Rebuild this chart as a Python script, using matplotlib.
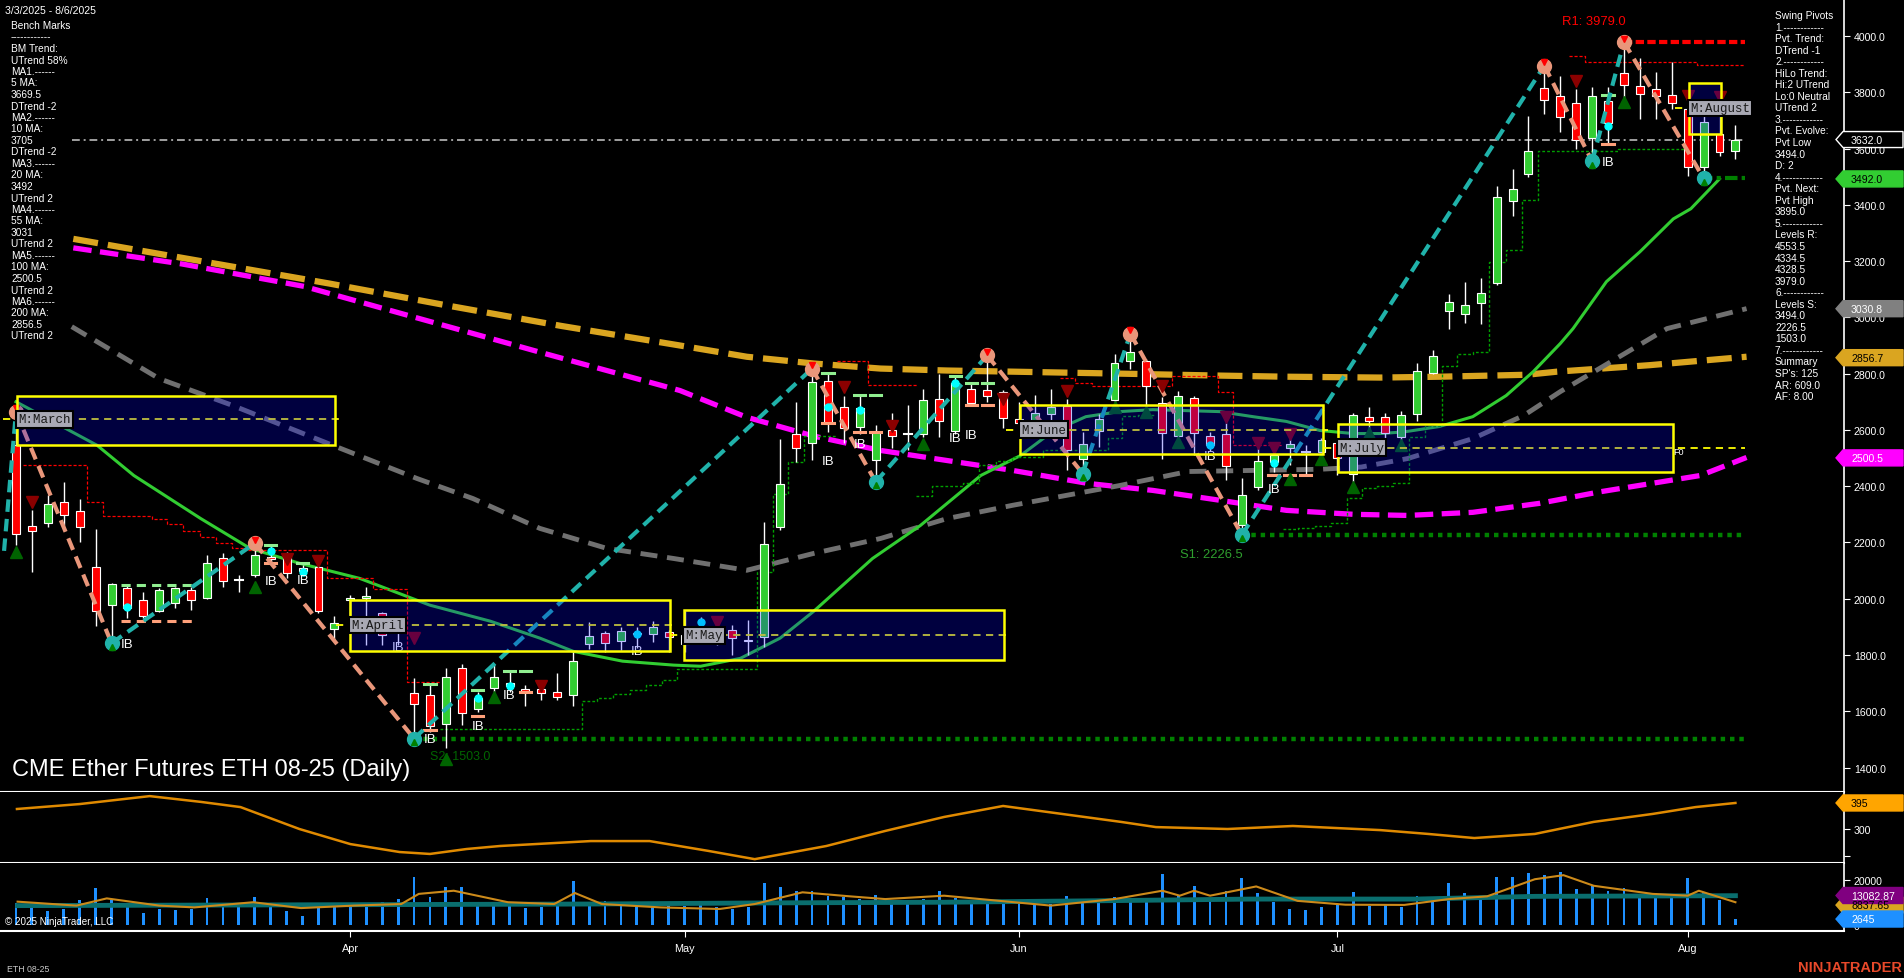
import numpy as np
import pandas as pd
import matplotlib
matplotlib.use("Agg")
import matplotlib.pyplot as plt
from matplotlib.patches import Rectangle, Polygon

plt.rcParams['font.family'] = ['Liberation Sans', 'DejaVu Sans']

# ------------------------------------------------------------------ data
holidays = ['2025-04-18', '2025-05-26', '2025-06-19', '2025-07-04']
dates = pd.bdate_range('2025-03-03', '2025-08-06')
dates = dates[~dates.isin(pd.to_datetime(holidays))]

opens = [2546, 2259, 2268, 2342, 2313, 2114, 1978, 2039, 1996, 1958,
         1984, 2031, 2002, 2143, 2066, 2084, 2150, 2155, 2110, 2114,
         1891, 1995, 2003, 1948, 1880, 1666, 1656, 1555, 1755, 1607,
         1682, 1690, 1679, 1679, 1670, 1656, 1839, 1877, 1848, 1879,
         1873, 1880, 1840, 1860, 1900, 1889, 1848, 1865, 2256, 2587,
         2554, 2774, 2682, 2610, 2492, 2599, 2587, 2587, 2711, 2595,
         2744, 2743, 2733, 2640, 2620, 2658, 2685, 2498, 2597, 2708,
         2844, 2844, 2697, 2579, 2714, 2579, 2585, 2262, 2398, 2486,
         2537, 2523, 2520, 2555, 2445, 2646, 2646, 2575, 2658, 2802,
         3022, 3012, 3052, 3122, 3415, 3510, 3814, 3788, 3761, 3637,
         3770, 3870, 3824, 3812, 3792, 3741, 3534, 3652, 3593]
highs = [2664, 2315, 2368, 2416, 2356, 2246, 2055, 2049, 2025, 2037,
         2043, 2043, 2155, 2161, 2084, 2197, 2190, 2167, 2120, 2143,
         1940, 2013, 2043, 1954, 1918, 1717, 1696, 1755, 1767, 1670,
         1768, 1741, 1694, 1700, 1737, 1812, 1916, 1886, 1901, 1901,
         1921, 1889, 1955, 1935, 1920, 1905, 1924, 2271, 2566, 2700,
         2818, 2802, 2721, 2723, 2619, 2660, 2690, 2747, 2800, 2788,
         2764, 2865, 2741, 2700, 2723, 2747, 2711, 2593, 2658, 2871,
         2942, 2852, 2717, 2737, 2720, 2593, 2626, 2430, 2534, 2545,
         2569, 2545, 2570, 2570, 2660, 2682, 2660, 2667, 2838, 2885,
         3084, 3125, 3140, 3466, 3528, 3717, 3895, 3859, 3812, 3818,
         3818, 3979, 3921, 3871, 3909, 3776, 3741, 3788, 3682]
lows = [2190, 2096, 2256, 2262, 2203, 1904, 1842, 1930, 1930, 1954,
        1966, 1960, 2000, 2043, 2025, 2078, 2130, 2072, 2085, 1948,
        1853, 1871, 1836, 1836, 1836, 1503, 1528, 1469, 1552, 1599,
        1670, 1670, 1619, 1640, 1640, 1617, 1822, 1810, 1818, 1824,
        1847, 1812, 1810, 1840, 1835, 1800, 1800, 1830, 2244, 2486,
        2492, 2593, 2552, 2587, 2415, 2534, 2528, 2575, 2575, 2587,
        2687, 2700, 2605, 2600, 2590, 2630, 2457, 2445, 2540, 2700,
        2818, 2682, 2496, 2563, 2510, 2525, 2421, 2226.5, 2385, 2451,
        2475, 2439, 2510, 2440, 2415, 2599, 2570, 2563, 2631, 2800,
        2957, 2981, 2978, 3114, 3359, 3498, 3723, 3658, 3599, 3554,
        3617, 3750, 3705, 3705, 3741, 3504, 3494, 3575, 3563]
closes = [2229, 2242, 2335, 2297, 2256, 1958, 2051, 1968, 1940, 2031,
          2037, 1996, 2126, 2064, 2068, 2155, 2140, 2090, 2100, 1958,
          1915, 2003, 2008, 1871, 1890, 1626, 1546, 1721, 1593, 1646,
          1720, 1700, 1667, 1664, 1652, 1779, 1868, 1844, 1885, 1875,
          1901, 1865, 1870, 1900, 1870, 1860, 1852, 2195, 2408, 2536,
          2770, 2625, 2605, 2678, 2592, 2579, 2589, 2708, 2631, 2765,
          2697, 2720, 2643, 2625, 2660, 2680, 2528, 2549, 2640, 2838,
          2877, 2756, 2589, 2720, 2589, 2545, 2472, 2368, 2490, 2510,
          2550, 2520, 2563, 2500, 2652, 2631, 2590, 2652, 2810, 2863,
          3054, 3043, 3086, 3427, 3456, 3590, 3774, 3711, 3632, 3786,
          3690, 3826, 3794, 3788, 3762, 3534, 3694, 3589, 3632]
volumes = [9900, 9200, 6200, 7000, 11000, 16300, 11100, 8300, 5200, 7000,
           6500, 7000, 11800, 9000, 8400, 12300, 8700, 6100, 3900, 8700,
           8700, 9200, 8000, 10100, 11400, 21200, 12300, 16700, 16700, 8700,
           8300, 9000, 7500, 8000, 9500, 19500, 9500, 10500, 9500, 10000,
           8500, 9000, 8500, 9500, 8000, 7000, 8000, 18600, 16700, 15200,
           15000, 13000, 12500, 11500, 13500, 10500, 9500, 11500, 15200, 12000,
           10500, 9500, 10000, 10500, 9000, 9500, 12700, 11000, 10000, 12500,
           11500, 10500, 22600, 13000, 17500, 12000, 15000, 20900, 14000, 10000,
           7000, 6500, 8000, 9000, 14500, 8500, 9000, 8000, 13000, 12000,
           18600, 14000, 12500, 21200, 21200, 23100, 22000, 23400, 16000, 17500,
           15000, 16500, 13500, 14000, 12500, 20700, 14500, 11000, 2645]

# moving averages (bar position, value)
ma20_x = [0, 5.1, 7.4, 11.6, 14.7, 17.8, 21.6, 26.0, 29.8, 32.9, 35.0, 38.1, 41.3, 43.0, 45.5,
          48.0, 50.1, 53.8, 56.8, 60.6, 63.1, 65.1, 67.2, 69.3, 71.4, 75.6, 77.7, 79.8, 81.9,
          84.0, 85.7, 87.2, 89.4, 91.5, 93.6, 95.3, 97.0, 97.8, 99.9, 102.0, 104.1, 105.2, 107.0]
ma20_v = [2700, 2545, 2438, 2285, 2179, 2126, 2072, 1977, 1920, 1860, 1813, 1778, 1764, 1760, 1788,
          1860, 1955, 2143, 2260, 2438, 2509, 2594, 2647, 2665, 2672, 2665, 2647, 2630, 2598,
          2587, 2587, 2593, 2612, 2647, 2722, 2807, 2907, 2960, 3127, 3233, 3350, 3386, 3492]
ma55_x = [3.5, 9.0, 13.6, 19.9, 25.2, 28.7, 32.9, 37.1, 41.3, 45.9, 50.1, 54.3, 58.5, 62.6,
          69.3, 73.6, 77.7, 81.9, 84.5, 87.4, 91.5, 94.7, 97.0, 103.7, 108.7]
ma55_v = [2967, 2782, 2687, 2545, 2427, 2356, 2250, 2179, 2143, 2101, 2161, 2214, 2285, 2332,
          2402, 2452, 2456, 2460, 2468, 2498, 2569, 2651, 2736, 2960, 3031]
ma100_x = [3.6, 10.4, 18.1, 25.7, 33.3, 41.7, 45.9, 50.1, 54.3, 58.5, 62.6, 67.3, 71.4, 75.6,
           79.8, 84.0, 87.4, 91.5, 95.7, 99.5, 105.8, 108.7]
ma100_v = [3247, 3190, 3110, 2990, 2870, 2740, 2645, 2578, 2527, 2491, 2456, 2410, 2385, 2350,
           2314, 2300, 2296, 2307, 2339, 2380, 2438, 2502]
ma200_x = [3.6, 11.6, 19.7, 27.3, 34.2, 41.7, 45.9, 50.1, 54.3, 58.5, 62.6, 69.3, 75.6, 79.8,
           85.7, 89.4, 92.6, 94.9, 96.8, 102.6, 108.7]
ma200_v = [3279, 3200, 3120, 3040, 2970, 2900, 2860, 2836, 2818, 2811, 2807, 2800, 2793, 2789,
           2786, 2789, 2793, 2796, 2807, 2830, 2860]

# swing pivots (zigzag)
piv_x = [-0.75, 0, 6, 15, 25, 50, 54, 61, 67, 70, 77, 96, 99, 101, 106]
piv_p = [2170, 2665, 1842, 2197, 1503, 2818, 2415, 2865, 2445, 2942, 2226.5, 3895, 3554, 3979, 3494]

# monthly boxes: label, start, end, top, bottom, mid
box_names = ['M:March', 'M:April', 'M:May', 'M:June', 'M:July', 'M:August']
box_i0 = [0.06, 20.98, 41.96, 63.07, 83.04, 105.09]
box_i1 = [20.04, 41.08, 62.06, 82.1, 104.08, 107.1]
box_top = [2722, 1994, 1959, 2690, 2622, 3833]
box_bot = [2548, 1813, 1781, 2516, 2452, 3652]
box_mid = [2637, 1906, 1870, 2601, 2537, 3744]

# signal markers
tri_dn_x = [1, 17, 19, 25, 33, 44, 52, 55, 62, 66, 72, 76, 78, 79, 80, 98, 105, 107]
tri_dn_p = [2344, 2141, 2134, 1860, 1690, 1917, 2753, 2614, 2710, 2738, 2756, 2646, 2554, 2536,
            2586, 3840, 3787, 3783]
tri_up_x = [0, 15, 27, 30, 57, 69, 71, 73, 80, 82, 84, 85, 87, 101]
tri_up_p = [2166, 2042, 1430, 1651, 2550, 2682, 2664, 2557, 2426, 2497, 2397, 2589, 2546, 3765]
ib_x = [7, 16, 18, 24, 26, 29, 31, 39, 51, 53, 59, 60, 75, 79, 100]
ib_p = [1839, 2063, 2067, 1828, 1502, 1548, 1658, 1814, 2489, 2550, 2571, 2582, 2507, 2390, 3552]
cy_x = [7, 16, 18, 24, 29, 31, 39, 43, 51, 53, 59, 75, 79, 100]
cy_p = [1972, 2168, 2094, 1892, 1646, 1689, 1874, 1918, 2683, 2669, 2765, 2548, 2484, 3681]
rt_x = [16, 16, 18, 26, 26, 29, 29, 31, 32, 32, 51, 51, 53, 54, 53, 54, 59, 60, 60, 61, 61,
        79, 80, 81, 100, 100]
rt_p = [2191, 2128, 2126, 1696, 1534, 1674, 1584, 1743, 1743, 1669, 2802, 2625, 2723, 2723, 2593,
        2593, 2791, 2767, 2688, 2767, 2688, 2439, 2439, 2439, 3791, 3617]
rt_k = ['g', 's', 'g', 'g', 's', 'g', 's', 'g', 'g', 's', 'g', 's', 'g', 'g', 's', 's', 'g', 'g',
        's', 'g', 's', 's', 's', 's', 'g', 's']

# trailing stair lines (breakpoints in bar units, level after each breakpoint)
red_st = [([0.44, 4.46, 5.46, 8.54, 9.48, 10.49, 11.56, 12.56, 13.57, 14.57, 19.53, 22.42, 24.56, 26.63],
           [2477, 2342, 2293, 2285, 2264, 2239, 2218, 2197, 2179, 2172, 2072, 2035, 1704]),
          ([51.57, 53.52, 56.6], [2846, 2758]),
          ([65.58, 66.52, 67.59, 72.61, 75.5, 76.44, 79.59], [2786, 2768, 2757, 2790, 2736, 2545]),
          ([97.55, 98.56, 105.6, 108.6], [3929, 3908, 3897])]
grn_st = [([26.63, 35.55, 36.5, 37.5, 38.57, 39.57, 40.58, 41.52, 46.55, 47.55, 48.49, 49.5, 51.57],
           [1537, 1638, 1646, 1661, 1677, 1694, 1711, 1750, 2095, 2372, 2486, 2578]),
          ([56.53, 57.54, 59.48, 60.49, 61.55, 62.56, 64.51, 68.56, 69.5, 70.48, 71.5],
           [2365, 2401, 2411, 2475, 2489, 2504, 2529, 2571, 2650, 2653]),
          ([79.59, 80.53, 81.6, 82.6, 83.6, 84.55, 85.49, 86.5, 87.5, 88.5, 89.57, 90.5, 91.52,
            92.52, 93.59, 94.6, 95.6, 100.6, 105.0],
           [2248, 2252, 2258, 2269, 2358, 2394, 2401, 2411, 2575, 2614, 2827, 2870, 2877, 3197,
            3240, 3418, 3591, 3598])]

# lower panels
ind_x = [0.06, 4.0, 8.4, 11.6, 14.1, 17.8, 21.0, 24.1, 26.0, 28.3, 30.4, 36.1, 39.8, 43.5, 46.4,
         50.9, 54.6, 58.3, 62.0, 65.7, 69.4, 71.6, 76.1, 80.2, 85.7, 88.7, 91.6, 95.4, 99.1,
         102.8, 105.5, 108.0]
ind_v = [373, 391, 420, 399, 380, 300, 245, 216, 209, 227, 238, 256, 256, 220, 190,
         238, 293, 344, 384, 355, 326, 307, 300, 311, 296, 282, 267, 282, 326,
         355, 380, 395]
vf_x = [0.1, 2.3, 3.8, 5.7, 9.0, 11.2, 14.9, 17.9, 21.2, 24.2, 25.3, 27.5, 30.9, 33.8, 35.1,
        36.8, 40.5, 44.2, 46.4, 49.4, 52.4, 54.6, 58.3, 62.7, 65.0, 69.0, 72.0, 73.1, 74.0,
        75.0, 77.9, 80.5, 83.5, 87.2, 90.0, 92.4, 95.4, 97.2, 99.1, 102.8, 105.0, 105.7, 108.0]
vf_v = [10350, 9300, 8600, 11800, 8600, 7800, 10100, 7500, 8600, 9300, 13800, 15200, 10100, 9300,
        14200, 9300, 7800, 7100, 9300, 14500, 12700, 11500, 13000, 10100, 8600, 11500, 15200,
        13000, 15200, 13000, 17100, 10700, 9000, 8900, 11500, 12700, 20300, 22100, 17400,
        13800, 13000, 15200, 10100]
vs_x = [0.1, 36.0, 47.2, 58.3, 68.7, 77.6, 87.9, 95.4, 108.0]
vs_v = [8600, 9300, 9800, 10100, 10800, 11500, 11500, 12700, 13000]

left_lines = ["Bench Marks", "------------", "BM Trend:", "UTrend 58%", "MA1.------", "5 MA:",
              "3669.5", "DTrend -2", "MA2.------", "10 MA:", "3705", "DTrend -2", "MA3.------",
              "20 MA:", "3492", "UTrend 2", "MA4.------", "55 MA:", "3031", "UTrend 2",
              "MA5.------", "100 MA:", "2500.5", "UTrend 2", "MA6.------", "200 MA:", "2856.5",
              "UTrend 2"]
right_lines = ["Swing Pivots", "1.------------", "Pvt. Trend:", "DTrend -1", "2.------------",
               "HiLo Trend:", "Hi:2 UTrend", "Lo:0 Neutral", "UTrend 2", "3.------------",
               "Pvt. Evolve:", "Pvt Low", "3494.0", "D: 2", "4.------------", "Pvt. Next:",
               "Pvt High", "3895.0", "5.------------", "Levels R:", "4553.5", "4334.5", "4328.5",
               "3979.0", "6.------------", "Levels S:", "3494.0", "2226.5", "1503.0",
               "7.------------", "Summary", "SP's: 125", "AR: 609.0", "AF: 8.00"]

# ------------------------------------------------------------------ figure
W, H = 1904, 979
fig = plt.figure(figsize=(W / 100, H / 100), dpi=100, facecolor='black')


def rect(x0, y0, x1, y1):
    return [x0 / W, 1 - y1 / H, (x1 - x0) / W, (y1 - y0) / H]


ax = fig.add_axes(rect(0, 0, 1844, 793))
axi = fig.add_axes(rect(0, 793, 1844, 864))
axv = fig.add_axes(rect(0, 864, 1844, 932))
XL = (-1.005, 114.82)
for a in (ax, axi, axv):
    a.set_facecolor('black')
    a.set_xlim(*XL)
    for s in ('top', 'left'):
        a.spines[s].set_visible(False)
    a.spines['right'].set_color('white')
    a.spines['bottom'].set_color('white')
    a.spines['right'].set_linewidth(1.2)
    a.spines['bottom'].set_linewidth(1.5)
    a.yaxis.tick_right()
    a.tick_params(axis='y', colors='white', labelcolor='white', labelsize=7.6, length=4, pad=3)
    a.tick_params(axis='x', colors='white', labelcolor='white', labelsize=7.8, length=4, pad=5)

ax.set_ylim(1313, 4131.5)
axi.set_ylim(176, 435)
axv.set_ylim(-2664, 27500)
ax.set_xticks([])
axi.set_xticks([])
ax.set_yticks(np.arange(1400, 4001, 200))
ax.set_yticklabels([f"{v:.1f}" for v in np.arange(1400, 4001, 200)])
axi.set_yticks([200, 300])
axi.set_yticklabels(['', '300'])
axv.set_yticks([0, 20000])
axv.set_yticklabels(['0', '20000'])

idx = np.arange(len(dates))
mfirst = [i for i in range(1, len(dates)) if dates[i].month != dates[i - 1].month]
axv.set_xticks(mfirst)
axv.set_xticklabels([dates[i].strftime('%b') for i in mfirst])

# ---- moving averages
ax.plot(ma200_x, ma200_v, color='#DAA520', lw=4.5, ls=(0, (4, 1.6)), zorder=2)
ax.plot(ma100_x, ma100_v, color='#FF00FF', lw=3.8, ls=(0, (3.5, 1.6)), zorder=2)
ax.plot(ma55_x, ma55_v, color='#707070', lw=3.5, ls=(0, (3.5, 2)), zorder=2)
ax.plot(ma20_x, ma20_v, color='#32CD32', lw=2.2, zorder=2)

# current price line
ax.plot([3.5, 108.6], [3632, 3632], color='#A0A0A0', lw=1.4, ls=(0, (4, 2, 1, 2)), zorder=2)

# stair lines
for xs, ps in red_st:
    ax.step(xs, ps + [ps[-1]], where='post', color='#FF0000', lw=0.9, ls=(0, (2.5, 1.5)), zorder=2)
for xs, ps in grn_st:
    ax.step(xs, ps + [ps[-1]], where='post', color='#00A000', lw=1.0, ls=(0, (2, 1.5)), zorder=2)

# support / resistance
ax.plot([25, 108.6], [1503, 1503], color='#008000', lw=3.2, ls=(0, (1, 1.1)), zorder=2)
ax.plot([77, 108.6], [2226.5, 2226.5], color='#008000', lw=3.2, ls=(0, (1, 1.1)), zorder=2)
ax.plot([101, 108.6], [3979, 3979], color='#FF0000', lw=3.0, ls=(0, (2, 0.8)), zorder=2)
ax.plot([105.8, 108.6], [3494, 3494], color='#008000', lw=3.0, ls=(0, (3, 1, 1, 1)), zorder=2)
ax.text(99.1, 4053, 'R1: 3979.0', color='#FF0000', fontsize=9.4, ha='center', va='center', zorder=8)
ax.text(73.1, 2159, 'S1: 2226.5', color='#2E9E2E', fontsize=9.4, ha='left', va='center', zorder=8)
ax.text(26.0, 1440, 'S2: 1503.0', color='#006400', fontsize=9.0, ha='left', va='center', zorder=8)

# ---- candles
wid = 0.5
ax.vlines(idx, lows, highs, color='white', lw=1.0, zorder=3)
for i in idx:
    o, c = opens[i], closes[i]
    lo, hi = min(o, c), max(o, c)
    if hi - lo < 4:
        ax.plot([i - wid / 2, i + wid / 2], [o, o], color='white', lw=1.5, zorder=3.5)
    else:
        col = '#32CD32' if c > o else '#FF0000'
        ax.add_patch(Rectangle((i - wid / 2, lo), wid, hi - lo, fc=col, ec='white', lw=0.8, zorder=3.5))

# range ticks
for x, p, k in zip(rt_x, rt_p, rt_k):
    ax.plot([x - 0.35, x + 0.35], [p, p], color='#90EE90' if k == 'g' else '#FFA07A', lw=2.2, zorder=4)
ax.plot([6.6, 11.4], [2049, 2049], color='#90EE90', lw=2.2, ls=(0, (3, 2)), zorder=4)
ax.plot([6.6, 11.4], [1921, 1921], color='#FFA07A', lw=2.2, ls=(0, (3, 2)), zorder=4)

# ---- zigzag
for k in range(len(piv_x) - 1):
    up = piv_p[k + 1] > piv_p[k]
    ax.plot(piv_x[k:k + 2], piv_p[k:k + 2], color='#20B2AA' if up else '#E9967A', lw=3.0,
            ls=(0, (3, 1.7)), zorder=5)
for k in range(1, len(piv_x)):
    high = piv_p[k] > piv_p[k - 1]
    ax.plot(piv_x[k], piv_p[k], 'o', ms=10, mfc='#E9967A' if high else '#20B2AA',
            mec='#E9967A' if high else '#20B2AA', zorder=6)
    ax.plot(piv_x[k], piv_p[k] + (12 if high else -12), 'v' if high else '^', ms=4,
            color='#FF0000' if high else '#008000', zorder=6.5)

# triangles, dots, IB labels
ax.plot(tri_dn_x, tri_dn_p, 'v', ms=9, color='#8B0000', ls='none', zorder=5.5)
ax.plot(tri_up_x, tri_up_p, '^', ms=9, color='#006400', ls='none', zorder=5.5)
ax.plot(cy_x, cy_p, 'o', ms=5, color='#00FFFF', ls='none', zorder=6)
for x, p in zip(ib_x, ib_p):
    ax.text(x, p, 'IB', color='white', fontsize=9.5, ha='center', va='center', zorder=8)

# ---- monthly boxes
for n, i0, i1, t, b, m in zip(box_names, box_i0, box_i1, box_top, box_bot, box_mid):
    end = 108.6 if n == 'M:July' else i1 + 0.3
    ax.plot([i0 - 0.9, end], [m, m], color='#FFFF00', lw=1.3, ls=(0, (4, 3)), zorder=9)
    ax.add_patch(Rectangle((i0, b), i1 - i0, t - b, fc=(0, 0, 1, 0.25), ec='none', zorder=10))
    ax.add_patch(Rectangle((i0, b), i1 - i0, t - b, fill=False, ec='#FFFF00', lw=1.8, zorder=11))
    ax.text(i0 + 0.05, m, n, family='Liberation Mono', fontsize=9, color='#1a1a1a', ha='left',
            va='center', zorder=12,
            bbox=dict(boxstyle='square,pad=0.18', fc='#A9A9B4', ec='black', lw=1.5))
ax.text(104.4, 2522, 'F0', color='white', fontsize=6.5, ha='center', va='center', zorder=12)

# title
ax.text(12 / 1844, 1 - 770 / 793, 'CME Ether Futures ETH 08-25 (Daily)', transform=ax.transAxes,
        color='white', fontsize=17.0, ha='left', va='center', zorder=13)

# ---- indicator panel
axi.plot(ind_x, ind_v, color='#E08A00', lw=1.8)

# ---- volume panel
axv.bar(idx, volumes, width=0.18, color='#1E90FF', zorder=2)
axv.plot(vs_x, vs_v, color='#0A6E6E', lw=3.5, zorder=3)
axv.plot(vf_x, vf_v, color='#CC8A1A', lw=1.5, zorder=4)
axv.text(5 / 1844, 0.14, '\u00a9 2025 NinjaTrader, LLC', transform=axv.transAxes, color='white',
         fontsize=7.1, ha='left', va='center', zorder=6)

# ---- value tags on the right axis
fig.canvas.draw()


def tag(a, value, label, bg, fg, ec=None):
    y = a.transData.transform((0, value))[1]
    h = 8
    pts = [(1836, y), (1843, y - h), (1903, y - h), (1903, y + h), (1843, y + h)]
    fig.add_artist(Polygon([(px / W, py / H) for px, py in pts], closed=True,
                           transform=fig.transFigure, fc=bg, ec=ec or bg, lw=1, zorder=30))
    fig.text(1851 / W, y / H, label, color=fg, fontsize=7.6, ha='left', va='center', zorder=31)


tag(ax, 3632.0, '3632.0', 'black', 'white', 'white')
tag(ax, 3492.0, '3492.0', '#32CD32', 'black')
tag(ax, 3030.8, '3030.8', '#808080', 'white')
tag(ax, 2856.7, '2856.7', '#DAA520', 'black')
tag(ax, 2500.5, '2500.5', '#FF00FF', 'white')
tag(axi, 395, '395', '#FFA500', 'black')
tag(axv, 8837.65, '8837.65', '#DAA520', 'black')
tag(axv, 13082.87, '13082.87', '#800080', 'white')
tag(axv, 2645, '2645', '#1E90FF', 'white')

# ---- text blocks
fig.text(5 / W, 1 - 11 / H, '3/3/2025 - 8/6/2025', color='white', fontsize=7.6, ha='left', va='center')
for k, s in enumerate(left_lines):
    fig.text(11 / W, 1 - (26 + 11.5 * k) / H, s, color='white', fontsize=7.3, ha='left', va='center')
for k, s in enumerate(right_lines):
    fig.text(1775 / W, 1 - (16 + 11.55 * k) / H, s, color='white', fontsize=7.3, ha='left', va='center')
fig.text(7 / W, 1 - 970 / H, 'ETH 08-25', color='#C8C8C8', fontsize=6.3, ha='left', va='center')
fig.text(1902 / W, 1 - 968 / H, 'NINJATRADER', color='#E8492A', fontsize=10.5, fontweight='bold',
         ha='right', va='center')

fig.savefig('out.png', dpi=100, facecolor='black')
